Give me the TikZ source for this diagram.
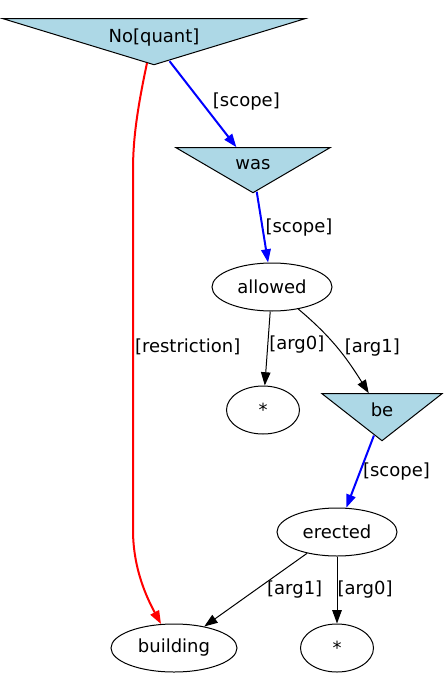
\documentclass[tikz,border=0pt]{standalone}
\usepackage{fontspec}
\setmainfont{DejaVu Sans}
\usetikzlibrary{shapes.geometric,arrows.meta}
\definecolor{lightblue}{HTML}{ADD8E6}
\begin{document}
\begin{tikzpicture}[x=1pt,y=-1pt,
                      >={Triangle[length=13.3pt,width=9.5pt]},
                      every node/.style={font=\fontsize{18}{21}\selectfont},
                      word node/.style={ellipse,draw,line width=1pt,inner sep=1pt,minimum height=48pt},
                      quant node/.style={isosceles triangle,isosceles triangle stretches,
                      shape border rotate=270,draw,line width=1pt,fill=lightblue,inner sep=0pt},
                      lbl/.style={inner sep=0pt,anchor=west,text=black},
                      arg edge/.style={->,line width=1pt},
                      scope edge/.style={->,line width=2pt,blue},
                      restr edge/.style={->,line width=2pt,red}
                     ]
   \useasboundingbox (0,0) rectangle (447,679);
   \node[quant node,minimum width=302pt,minimum height=46pt,anchor=apex,
         label={[anchor=center,yshift=-19pt]lower side:No[quant]}] (no) at (154,66) {};
   \node[quant node,minimum width=154pt,minimum height=45pt,anchor=apex,
         label={[anchor=center,yshift=-17pt]lower side:was}] (was) at (253,194) {};
   \node[word node,minimum width=120pt] (allowed) at (272,287) {allowed};
   \node[word node,minimum width=73pt] (star1) at (263,410) {*};
   \node[quant node,minimum width=120pt,minimum height=47pt,anchor=apex,
         label={[anchor=center,yshift=-16.5pt]lower side:be}] (be) at (382,442) {};
   \node[word node,minimum width=120pt] (erected) at (337,532) {erected};
   \node[word node,minimum width=126pt] (building) at (174,648) {building};
   \node[word node,minimum width=73pt] (star2) at (337,648) {*};
   \draw[scope edge] (no) -- node[lbl,pos=.47,xshift=11pt] {[scope]} (was);
   \draw[restr edge] ([xshift=-7pt,yshift=3pt]no.apex) .. controls (137,110) and (133,140) .. (133,170)
     -- node[lbl,pos=.49,xshift=1pt] {[restriction]} (133,530) .. controls (133,570) and (148,600) .. (building);
   \draw[scope edge] (was) -- node[lbl,pos=.51,xshift=2pt] {[scope]} (allowed);
   \path%
     (allowed) edge[arg edge] node[lbl,pos=.45,xshift=1pt] {[arg0]} (star1)
     (allowed) edge[arg edge,out=-40,in=122] node[lbl,pos=.5,xshift=7pt] {[arg1]} (be)
     (erected) edge[arg edge] node[lbl,pos=.5,xshift=11pt] {[arg1]} (building)
     (erected) edge[arg edge] node[lbl,pos=.5] {[arg0]} (star2);
   \draw[scope edge] (be) -- node[lbl,pos=.5,xshift=2pt] {[scope]} (erected);
\end{tikzpicture}
\end{document}
